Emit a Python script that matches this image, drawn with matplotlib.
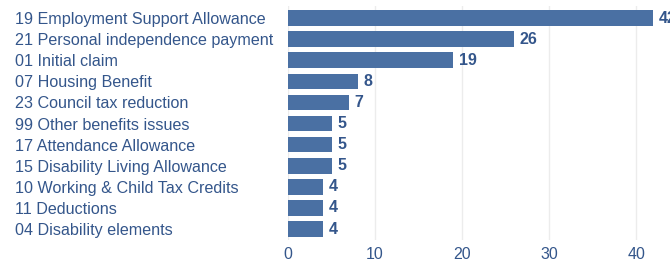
import matplotlib
matplotlib.use("Agg")
import matplotlib.pyplot as plt

categories = [
    "19 Employment Support Allowance",
    "21 Personal independence payment",
    "01 Initial claim",
    "07 Housing Benefit",
    "23 Council tax reduction",
    "99 Other benefits issues",
    "17 Attendance Allowance",
    "15 Disability Living Allowance",
    "10 Working & Child Tax Credits",
    "11 Deductions",
    "04 Disability elements",
]
values = [42, 26, 19, 8, 7, 5, 5, 5, 4, 4, 4]
x_ticks = [0, 10, 20, 30, 40]

bar_color = "#4a70a3"
text_color = "#34568b"

plt.rcParams["font.family"] = ["Liberation Sans", "DejaVu Sans"]

fig = plt.figure(figsize=(6.7, 2.64), dpi=100)
ax = fig.add_axes([0.43, 0.091, 0.57, 0.886])

positions = list(range(len(categories)))
bars = ax.barh(positions, values, height=0.74, color=bar_color, zorder=2)
ax.bar_label(bars, padding=4, color=text_color, fontsize=11.5, fontweight="bold")

ax.set_xlim(0, 43.9)
ax.set_ylim(10.52, -0.57)

ax.set_yticks(positions)
ax.set_yticklabels(categories)
for lbl in ax.get_yticklabels():
    lbl.set_ha("left")
ax.tick_params(axis="y", length=0, pad=196.5, labelsize=11.6, labelcolor=text_color)

ax.set_xticks(x_ticks)
ax.tick_params(axis="x", length=0, pad=5, labelsize=11.5, labelcolor=text_color)

ax.grid(axis="x", color="#ececec", linewidth=1, zorder=0)
for s in ax.spines.values():
    s.set_visible(False)

plt.savefig("out.png", dpi=100)
